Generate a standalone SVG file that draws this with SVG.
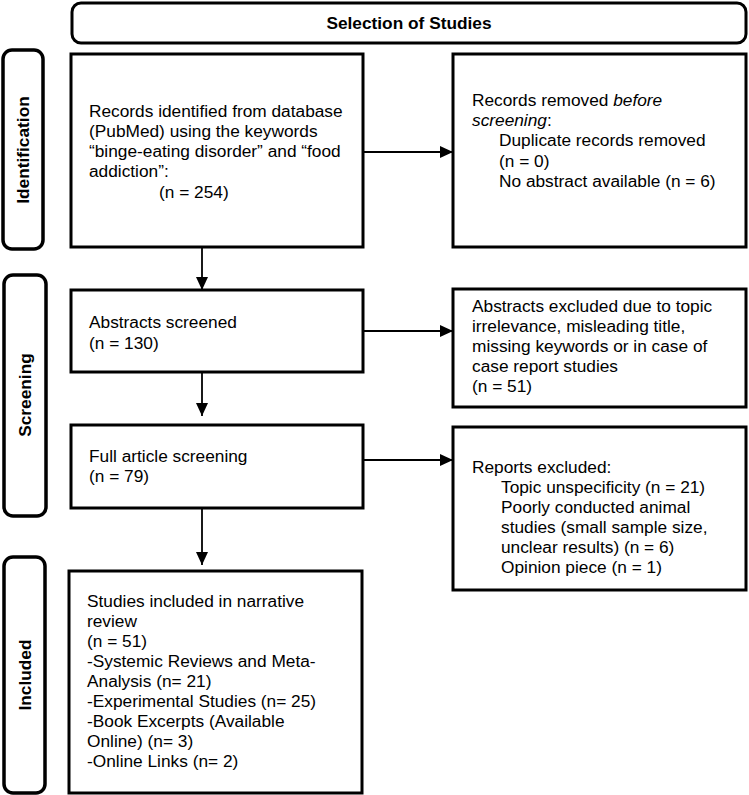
<svg xmlns="http://www.w3.org/2000/svg" width="749" height="795" viewBox="0 0 749 795">
<defs>
<marker id="ah" viewBox="0 0 13 12" refX="13" refY="6" markerWidth="13" markerHeight="12" markerUnits="userSpaceOnUse" orient="auto"><path d="M0,0 L13,6 L0,12 z" fill="#000"/></marker>
</defs>
<style>
.box{fill:#fff;stroke:#000;stroke-width:3}
.lbl{fill:#fff;stroke:#000;stroke-width:3.5}
text{font-family:"Liberation Sans",Arial,sans-serif;font-size:17.3px;fill:#000}
.b{font-weight:bold}
.i{font-style:italic}
.c{stroke:#000;stroke-width:1.8;fill:none;marker-end:url(#ah)}
</style>
<rect width="749" height="795" fill="#fff"/>

<g id="title">
<rect class="box" x="72" y="3" width="674" height="40" rx="9"/>
<text class="b" x="409" y="29" text-anchor="middle">Selection of Studies</text>
</g>

<g id="label-identification">
<rect class="lbl" x="3" y="50" width="40" height="199" rx="9"/>
<text class="b" transform="translate(29,150) rotate(-90)" text-anchor="middle">Identification</text>
</g>
<g id="label-screening">
<rect class="lbl" x="4" y="275" width="42" height="241" rx="9"/>
<text class="b" transform="translate(31,395) rotate(-90)" text-anchor="middle">Screening</text>
</g>
<g id="label-included">
<rect class="lbl" x="4" y="557" width="41" height="236" rx="9"/>
<text class="b" transform="translate(30.5,675) rotate(-90)" text-anchor="middle">Included</text>
</g>

<g id="records-identified">
<rect class="box" x="71" y="54" width="292" height="193"/>
<text x="89" y="117">Records identified from database</text>
<text x="89" y="137">(PubMed) using the keywords</text>
<text x="89" y="157">“binge-eating disorder” and “food</text>
<text x="89" y="177">addiction”:</text>
<text x="159" y="198">(n = 254)</text>
</g>

<g id="records-removed">
<rect class="box" x="453" y="54" width="293" height="193"/>
<text x="472" y="106">Records removed <tspan class="i">before</tspan></text>
<text x="472" y="126"><tspan class="i">screening</tspan>:</text>
<text x="499" y="146">Duplicate records removed</text>
<text x="499" y="167">(n = 0)</text>
<text x="499" y="187">No abstract available (n = 6)</text>
</g>

<g id="abstracts-screened">
<rect class="box" x="71" y="290" width="292" height="82"/>
<text x="89" y="328">Abstracts screened</text>
<text x="89" y="349">(n = 130)</text>
</g>

<g id="abstracts-excluded">
<rect class="box" x="453" y="289" width="293" height="118"/>
<text x="472" y="312">Abstracts excluded due to topic</text>
<text x="472" y="332">irrelevance, misleading title,</text>
<text x="472" y="352">missing keywords or in case of</text>
<text x="472" y="372">case report studies</text>
<text x="472" y="392">(n = 51)</text>
</g>

<g id="full-article">
<rect class="box" x="71" y="425" width="292" height="83"/>
<text x="89" y="462">Full article screening</text>
<text x="89" y="482">(n = 79)</text>
</g>

<g id="reports-excluded">
<rect class="box" x="453" y="427" width="293" height="163"/>
<text x="472" y="473">Reports excluded:</text>
<text x="501" y="493">Topic unspecificity (n = 21)</text>
<text x="501" y="513">Poorly conducted animal</text>
<text x="501" y="533">studies (small sample size,</text>
<text x="501" y="553">unclear results) (n = 6)</text>
<text x="501" y="573">Opinion piece (n = 1)</text>
</g>

<g id="included">
<rect class="box" x="69" y="571" width="293" height="222"/>
<text x="87" y="607">Studies included in narrative</text>
<text x="87" y="627">review</text>
<text x="87" y="647">(n = 51)</text>
<text x="87" y="667">-Systemic Reviews and Meta-</text>
<text x="87" y="687">Analysis (n= 21)</text>
<text x="87" y="707">-Experimental Studies (n= 25)</text>
<text x="87" y="727">-Book Excerpts (Available</text>
<text x="87" y="747">Online) (n= 3)</text>
<text x="87" y="767">-Online Links (n= 2)</text>
</g>

<g id="connectors">
<path class="c" d="M363,152 H453"/>
<path class="c" d="M202,247 V290"/>
<path class="c" d="M363,331 H453"/>
<path class="c" d="M202,372 V416"/>
<path class="c" d="M363,460 H453"/>
<path class="c" d="M202,508 V565"/>
</g>
</svg>
